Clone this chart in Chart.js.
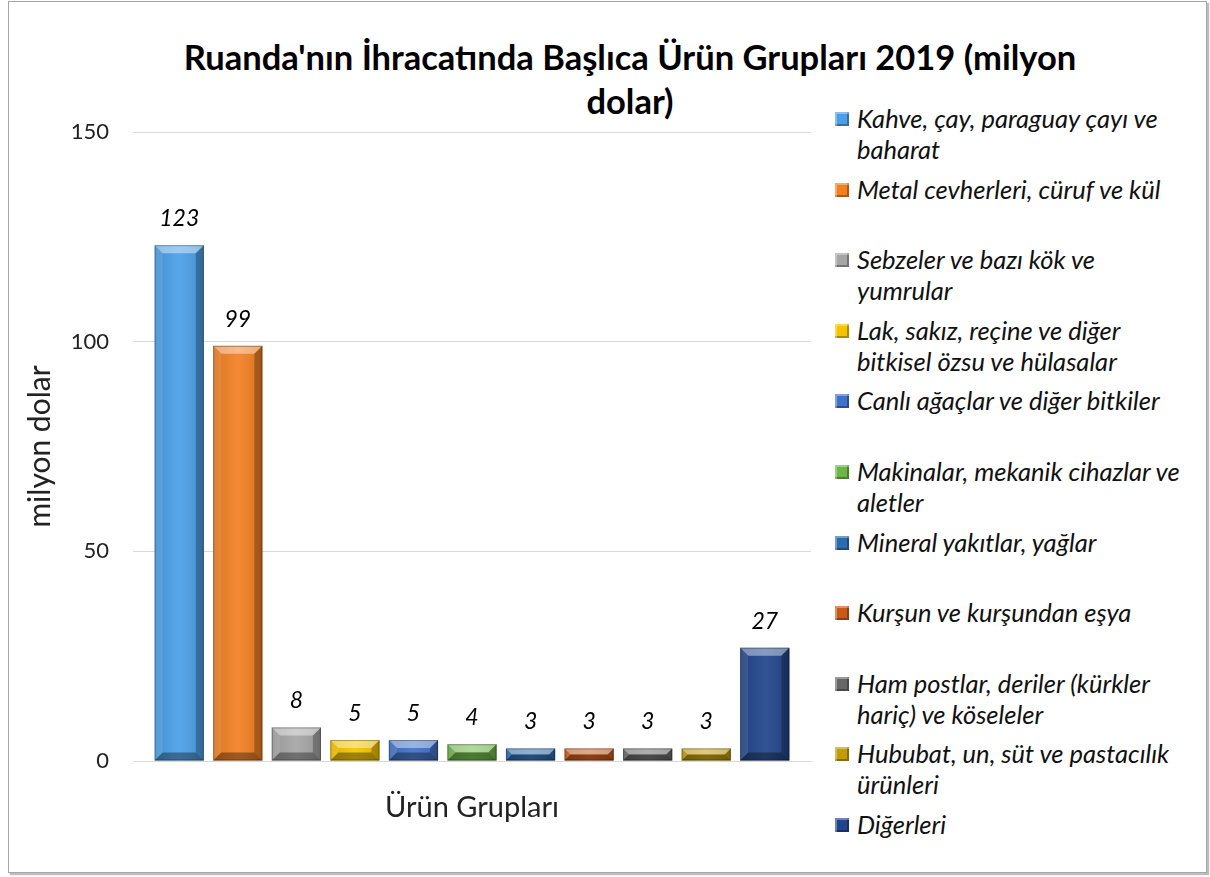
<!DOCTYPE html>
<html>
<head>
    <meta charset="utf-8">
    <title>Ruanda İhracat 2019</title>
    <script src="https://cdn.jsdelivr.net/npm/chart.js"></script>
    <style>
        body { margin: 0; background: #fff; font-family: Lato, "Open Sans", sans-serif; }
        .frame {
            position: absolute; left: 8px; top: 1px; width: 1197px; height: 870px;
            border: 1px solid #a6a6a6; box-shadow: 2px 2px 1px #bdbdbd;
        }
        .title {
            position: absolute; left: 130px; width: 1000px; top: 35px;
            text-align: center; font-weight: 700; font-size: 34.5px; line-height: 44px; color: #000;
        }
        .chart-box { position: absolute; left: 0; top: 0; width: 830px; height: 877px; }
        .legend { position: absolute; left: 835px; top: 0; }
        .legend-item {
            position: absolute; left: 0; white-space: pre; font-style: italic;
            font-size: 25.5px; line-height: 31px; color: #111; padding-left: 22px;
        }
        .legend-item i {
            position: absolute; left: 0; top: 9px; width: 14px; height: 14px;
            box-shadow: inset 2px 2px 0 rgba(255,255,255,0.35), inset -2px -2px 0 rgba(0,0,0,0.3);
        }
    </style>
</head>
<body>
<div class="frame"></div>
<div class="title">Ruanda'nın İhracatında Başlıca Ürün Grupları 2019 (milyon<br>dolar)</div>
<div class="chart-box"><canvas id="exportChart" width="830" height="877"></canvas></div>
<div class="legend" id="legend"></div>

<script>
// ürün grupları (lejant metni, satır sonları dahil)
const groups = [
    'Kahve, çay, paraguay çayı ve\nbaharat',
    'Metal cevherleri, cüruf ve kül',
    'Sebzeler ve bazı kök ve\nyumrular',
    'Lak, sakız, reçine ve diğer\nbitkisel özsu ve hülasalar',
    'Canlı ağaçlar ve diğer bitkiler',
    'Makinalar, mekanik cihazlar ve\naletler',
    'Mineral yakıtlar, yağlar',
    'Kurşun ve kurşundan eşya',
    'Ham postlar, deriler (kürkler\nhariç) ve köseleler',
    'Hububat, un, süt ve pastacılık\nürünleri',
    'Diğerleri'
];
// milyon dolar
const values = [123, 99, 8, 5, 5, 4, 3, 3, 3, 3, 27];
const colors = ['#4a9fe6', '#f27f22', '#a5a5a5', '#f5c400', '#3f72c9', '#6cb547',
                '#2a6cb0', '#c8591a', '#676767', '#c39a0a', '#21458a'];
const yTicks = [0, 50, 100, 150];

// lejant
const legend = document.getElementById('legend');
groups.forEach((g, i) => {
    const d = document.createElement('div');
    d.className = 'legend-item';
    d.style.top = (103 + i * 70.6) + 'px';
    d.innerHTML = '<i style="background:' + colors[i] + '"></i>';
    d.appendChild(document.createTextNode(g));
    legend.appendChild(d);
});

// çubuklara eğim (bevel) efekti ve değer etiketleri
const bevelPlugin = {
    id: 'bevel',
    afterDatasetsDraw(chart) {
        const ctx = chart.ctx;
        chart.data.datasets.forEach((ds, i) => {
            chart.getDatasetMeta(i).data.forEach((bar, j) => {
                const l = bar.x - bar.width / 2, r = bar.x + bar.width / 2;
                const t = bar.y, b = bar.base;
                const s = Math.min(8, (b - t) / 2);
                const poly = (pts, fill) => {
                    ctx.beginPath();
                    ctx.moveTo(pts[0][0], pts[0][1]);
                    pts.slice(1).forEach(p => ctx.lineTo(p[0], p[1]));
                    ctx.closePath();
                    ctx.fillStyle = fill;
                    ctx.fill();
                };
                ctx.save();
                // gövde gradyanı
                const g = ctx.createLinearGradient(l, 0, r, 0);
                g.addColorStop(0, 'rgba(0,0,0,0.10)');
                g.addColorStop(0.5, 'rgba(255,255,255,0.08)');
                g.addColorStop(1, 'rgba(0,0,0,0.12)');
                ctx.fillStyle = g;
                ctx.fillRect(l, t, r - l, b - t);
                poly([[l, t], [r, t], [r - s, t + s], [l + s, t + s]], 'rgba(255,255,255,0.42)');
                poly([[l, t], [l + s, t + s], [l + s, b - s], [l, b]], 'rgba(255,255,255,0.10)');
                poly([[r, t], [r - s, t + s], [r - s, b - s], [r, b]], 'rgba(0,0,0,0.25)');
                poly([[l, b], [l + s, b - s], [r - s, b - s], [r, b]], 'rgba(0,0,0,0.35)');
                ctx.strokeStyle = 'rgba(0,0,0,0.3)';
                ctx.lineWidth = 1;
                ctx.strokeRect(l + 0.5, t + 0.5, r - l - 1, b - t - 1);
                // değer etiketi
                ctx.fillStyle = '#000';
                ctx.font = 'italic 23px Lato, "Open Sans", sans-serif';
                ctx.textAlign = 'center';
                ctx.textBaseline = 'alphabetic';
                ctx.fillText(ds.data[j], bar.x, t - 19);
                ctx.restore();
            });
        });
    }
};

window.onload = () => {
    Chart.defaults.font.family = 'Lato, "Open Sans", sans-serif';
    new Chart(document.getElementById('exportChart').getContext('2d'), {
        type: 'bar',
        data: {
            labels: [''],
            datasets: groups.map((g, i) => ({
                label: g,
                data: [values[i]],
                backgroundColor: colors[i],
                categoryPercentage: 0.95,
                barPercentage: 0.84
            }))
        },
        options: {
            responsive: false,
            animation: false,
            layout: { padding: { left: 18, top: 132, right: 19, bottom: 48 } },
            plugins: { legend: { display: false }, tooltip: { enabled: false } },
            scales: {
                x: {
                    grid: { display: false },
                    border: { color: '#d9d9d9' },
                    ticks: { display: false },
                    title: { display: true, text: 'Ürün Grupları', font: { size: 29 }, color: '#222' },
                    afterFit: (s) => { s.height = 68; }
                },
                y: {
                    min: 0, max: 150,
                    afterBuildTicks: (s) => { s.ticks = yTicks.map(v => ({ value: v })); },
                    grid: { color: '#d9d9d9', drawTicks: false },
                    border: { display: false },
                    ticks: { padding: 24, font: { size: 22 }, color: '#222' },
                    title: { display: true, text: 'milyon dolar', font: { size: 30 }, color: '#222' },
                    afterFit: (s) => { s.width = 115; }
                }
            }
        },
        plugins: [bevelPlugin]
    });
};
</script>
</body>
</html>
